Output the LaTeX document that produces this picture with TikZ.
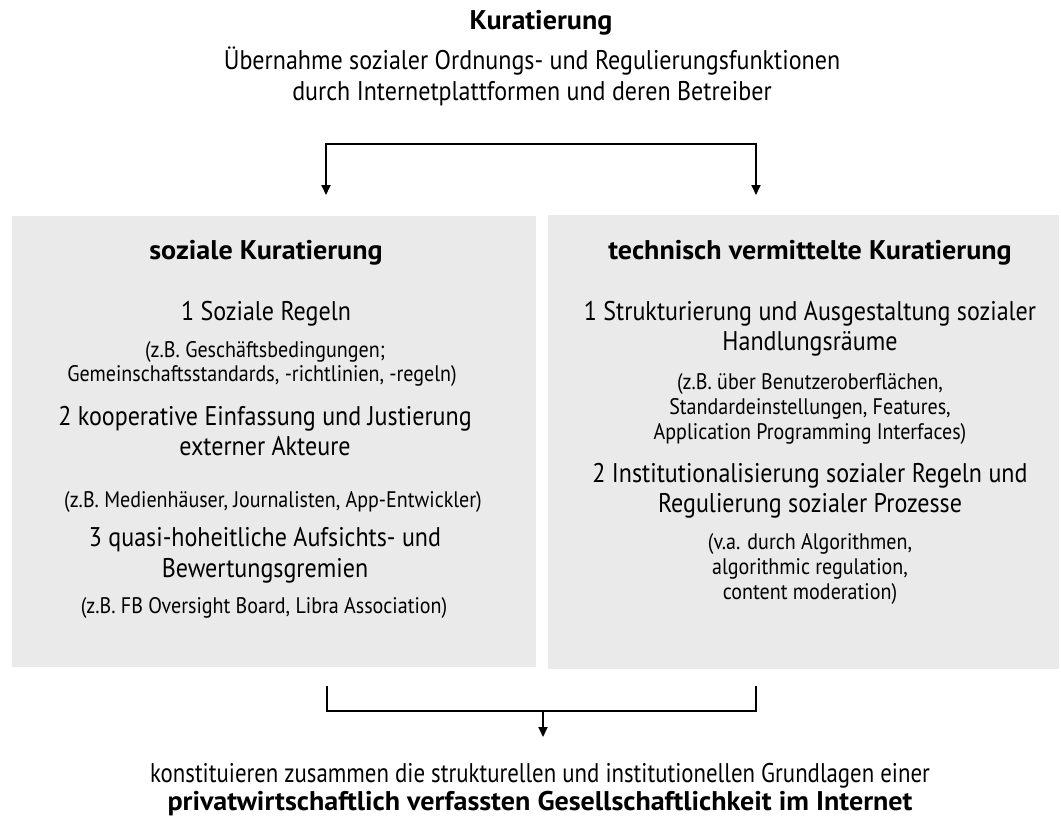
\documentclass[tikz,border=0pt]{standalone}
\usepackage{fontspec}
\setmainfont{PT Sans}[FakeStretch=0.89,BoldFeatures={FakeStretch=1.04}]
\usetikzlibrary{arrows.meta}
\definecolor{boxgray}{RGB}{234,234,234}
\begin{document}
\begin{tikzpicture}[x=1pt,y=-1pt,
  big/.style={anchor=base,inner sep=0pt,font=\fontsize{27}{31}\selectfont},
  bigb/.style={anchor=base,inner sep=0pt,font=\fontsize{27}{31}\selectfont\bfseries},
  sml/.style={anchor=base,inner sep=0pt,font=\fontsize{22.5}{25}\selectfont},
  conn/.style={line width=1.8pt},
  arr/.style={line width=1.8pt,-{Triangle[width=9pt,length=10pt]}},
  panel/.style={fill=boxgray,draw=none}]
\useasboundingbox (0,0) rectangle (1061,825);
% boxes
\fill[panel] (12,216) rectangle (536,667);
\fill[panel] (548,215) rectangle (1059,669);
% top text
\node[bigb] (t1) at (541,29) {Kuratierung};
\node[big] (t2) at (532,69) {Übernahme sozialer Ordnungs- und Regulierungsfunktionen};
\node[big] (t3) at (532,100) {durch Internetplattformen und deren Betreiber};
% left box
\node[bigb] (lh) at (266,259) {soziale Kuratierung};
\node[big] (l1) at (266,320) {1 Soziale Regeln};
\node[sml] (l1a) at (265,357) {(z.B. Geschäftsbedingungen;};
\node[sml] (l1b) at (262,381) {Gemeinschaftsstandards, -richtlinien, -regeln)};
\node[big] (l2) at (265,425) {2 kooperative Einfassung und Justierung};
\node[big] (l2b) at (265,455) {externer Akteure};
\node[sml] (l2c) at (273,507) {(z.B. Medienhäuser, Journalisten, App-Entwickler)};
\node[big] (l3) at (265,546) {3 quasi-hoheitliche Aufsichts- und};
\node[big] (l3b) at (265,577) {Bewertungsgremien};
\node[sml] (l3c) at (264,613) {(z.B. FB Oversight Board, Libra Association)};
% right box
\node[bigb] (rh) at (810,259) {technisch vermittelte Kuratierung};
\node[big] (r1) at (810,320) {1 Strukturierung und Ausgestaltung sozialer};
\node[big] (r1b) at (810,350) {Handlungsräume};
\node[sml] (r1c) at (810,389) {(z.B. über Benutzeroberflächen,};
\node[sml] (r1d) at (810,414) {Standardeinstellungen, Features,};
\node[sml] (r1e) at (810,439) {Application Programming Interfaces)};
\node[big] (r2) at (810,482) {2 Institutionalisierung sozialer Regeln und};
\node[big] (r2b) at (810,512) {Regulierung sozialer Prozesse};
\node[sml] (r2c) at (810,549) {(v.a. durch Algorithmen,};
\node[sml] (r2d) at (810,574) {algorithmic regulation,};
\node[sml] (r2e) at (810,599) {content moderation)};
% bottom text
\node[big,font=\fontsize{27}{31}\selectfont\addfontfeature{FakeStretch=0.845}] (b1) at (540,782) {konstituieren zusammen die strukturellen und institutionellen Grundlagen einer};
\node[bigb] (b2) at (540,810) {privatwirtschaftlich verfassten Gesellschaftlichkeit im Internet};
% top bracket
\coordinate (ta) at (326,195);
\coordinate (tm) at (541,144);
\coordinate (tb) at (756,195);
\draw[arr] (tm) -| (ta);
\draw[arr] (tm) -| (tb);
% bottom bracket
\coordinate (ba) at (327,686);
\coordinate (bm) at (543,711);
\coordinate (bb) at (756,686);
\coordinate (be) at (543,737);
\draw[conn] (ba) |- (bm) -| (bb);
\draw[arr] (bm) -- (be);
\end{tikzpicture}
\end{document}
